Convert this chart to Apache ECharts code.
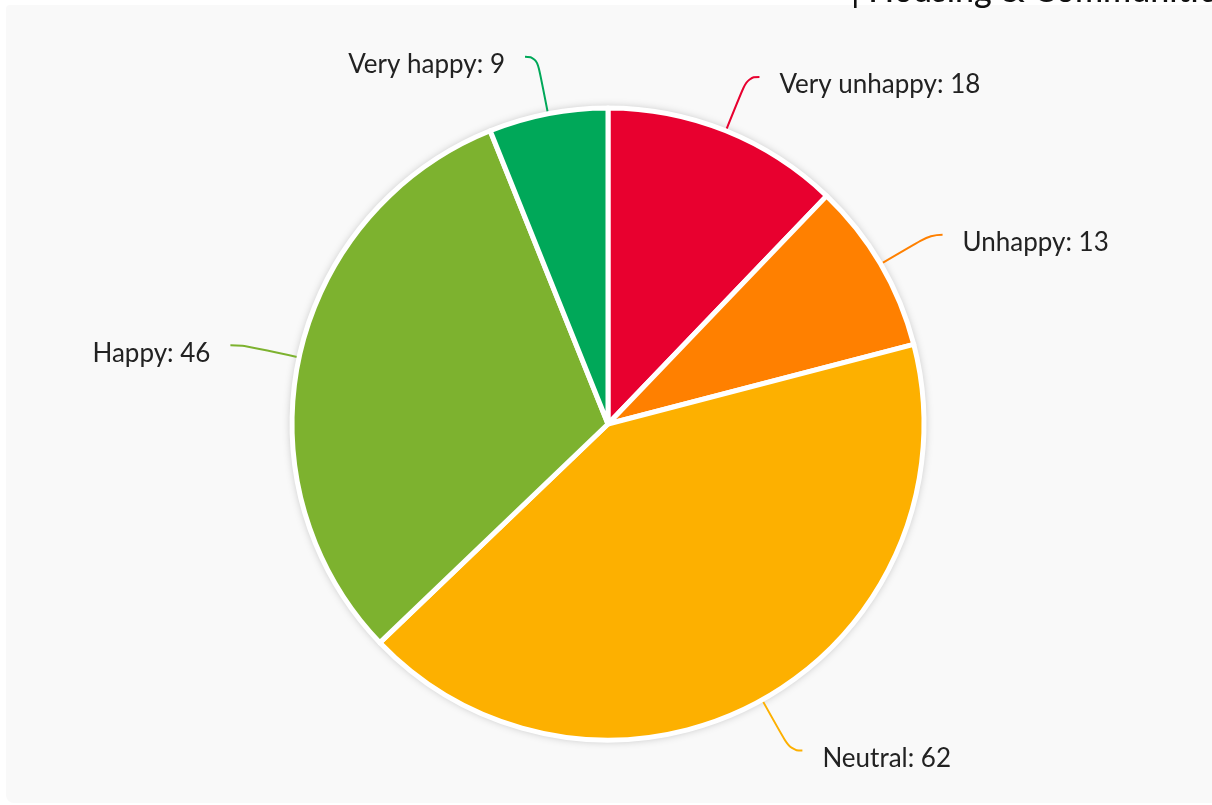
<!DOCTYPE html>
<html>
<head>
<meta charset="utf-8">
<script src="https://cdn.jsdelivr.net/npm/echarts@6/dist/echarts.min.js"></script>
<style>
  html, body { margin: 0; padding: 0; background: #ffffff; }
  #chart { width: 1212px; height: 805px; }
</style>
</head>
<body>
<div id="chart"></div>
<script>
// Survey responses: how happy residents are
const categories = ['Very unhappy', 'Unhappy', 'Neutral', 'Happy', 'Very happy'];
const counts = [18, 13, 62, 46, 9];
const sliceColors = ['#e8002f', '#ff8000', '#fdb000', '#7db22f', '#00a859'];

const chart = echarts.init(document.getElementById('chart'), null, { renderer: 'canvas' });

const pieData = categories.map((name, i) => ({
  name: name,
  value: counts[i],
  itemStyle: { color: sliceColors[i] },
  labelLine: { lineStyle: { color: sliceColors[i] } }
}));

const center = [608, 424];
const radius = 316;

chart.setOption({
  backgroundColor: '#ffffff',
  animation: false,
  graphic: [
    {
      type: 'rect',
      z: -10,
      silent: true,
      shape: { x: 6, y: 5, width: 1220, height: 798, r: [4, 0, 0, 8] },
      style: { fill: '#f9f9f9' }
    },
    {
      type: 'text',
      z: 10,
      silent: true,
      style: {
        x: 851,
        y: 8,
        text: '| Housing & Communities',
        font: '500 34px Lato',
        fill: '#111111',
        align: 'left',
        verticalAlign: 'bottom'
      }
    }
  ],
  series: [
    {
      // soft shadow disc behind the slices
      type: 'pie',
      silent: true,
      center: center,
      radius: radius + 1,
      z: 1,
      label: { show: false },
      labelLine: { show: false },
      itemStyle: {
        color: '#ffffff',
        shadowBlur: 8,
        shadowColor: 'rgba(0,0,0,0.25)'
      },
      data: [{ value: 1 }]
    },
    {
      type: 'pie',
      center: center,
      radius: radius,
      z: 2,
      startAngle: 90,
      clockwise: true,
      avoidLabelOverlap: false,
      itemStyle: {
        borderColor: '#ffffff',
        borderWidth: 5
      },
      label: {
        show: true,
        formatter: '{t|{b}: {c}}',
        rich: {
          t: {
            fontFamily: 'Lato',
            fontSize: 26,
            color: '#222222',
            lineHeight: 26,
            padding: [16, 0, 0, 0]
          }
        },
        distanceToLabelLine: 20
      },
      labelLine: {
        show: true,
        length: 58,
        length2: 12,
        smooth: 0.5,
        lineStyle: { width: 2 }
      },
      data: pieData
    }
  ]
});
</script>
</body>
</html>
